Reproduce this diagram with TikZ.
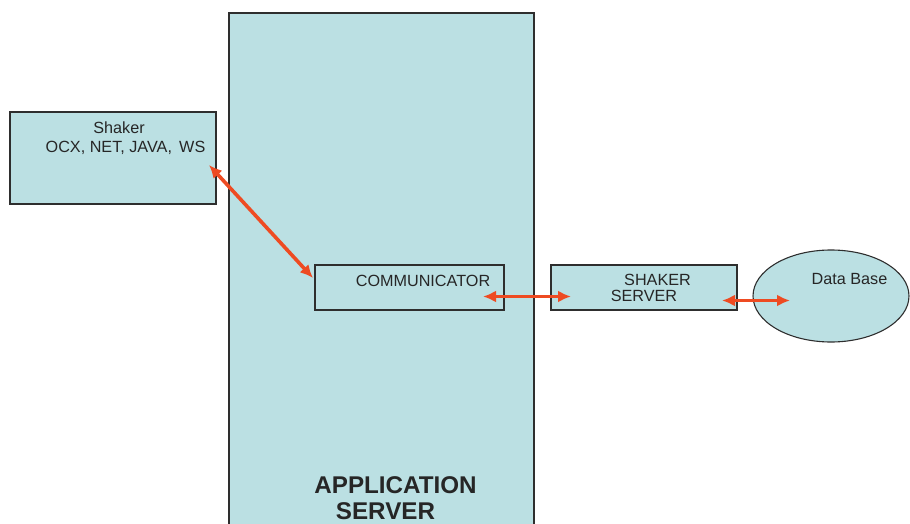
\documentclass[tikz,border=0pt]{standalone}
\usepackage{fontspec}
\setmainfont{Liberation Sans}
\definecolor{ShakerFill}{HTML}{BBE0E3}
\definecolor{ShakerLine}{HTML}{2E2E2E}
\definecolor{ShakerLink}{HTML}{EE4B22}
\usetikzlibrary{arrows.meta,positioning,calc,shapes.geometric}

\tikzset{
  unit/.style={draw=ShakerLine, fill=ShakerFill, line width=1.1pt, inner sep=0pt},
  caption/.style={inner sep=0pt, font=\fontsize{16.2}{19}\selectfont, text=black!85},
  link/.style={draw=ShakerLink, line width=3.6pt,
    {Latex[length=13pt,width=12pt]}-{Latex[length=13pt,width=12pt]}}
}

\begin{document}
\begin{tikzpicture}[x=1pt,y=-1pt]
  \useasboundingbox (0,0) rectangle (910,524);
  \clip (0,0) rectangle (910,524);

  % application server, runs past the bottom edge
  \node[unit, minimum width=305pt, minimum height=527pt] (appsrv) at (381.5,276.5) {};
  \node[caption, font=\fontsize{24.2}{26}\selectfont\bfseries] (apptop) at (395.5,485) {APPLICATION};
  \node[caption, font=\fontsize{24.2}{26}\selectfont\bfseries] (appbot) at (385.5,511) {SERVER};

  % client side
  \node[unit, minimum width=206pt, minimum height=92pt] (shaker) at (113,158) {};
  \node[caption] (shakername) at (119,128) {Shaker};
  \node[caption] (shakerkinds) at (125.5,148) {OCX, NET, JAVA,\, WS};

  \node[unit, minimum width=189pt, minimum height=45pt] (comm) at (409.5,287.5) {};
  \node[caption] (commname) at (423,281) {COMMUNICATOR};

  \node[unit, minimum width=186pt, minimum height=45pt] (shksrv) at (644,287.5) {};
  \node[caption] (shksrvtop) at (657.5,280) {SHAKER};
  \node[caption] (shksrvbot) at (644,296) {SERVER};

  \node[unit, ellipse, minimum width=156pt, minimum height=92pt] (db) at (831,296) {};
  \node[caption] (dbname) at (849.5,279) {Data Base};

  % arrow ends
  \coordinate (shakerend) at (209,165);
  \coordinate (commin) at (313,278);
  \coordinate (commout) at (483,296.5);
  \coordinate (shksrvin) at (571,296.5);
  \coordinate (shksrvout) at (722,300.5);
  \coordinate (dbin) at (790,300.5);

  \draw[link] (shakerend) -- (commin);
  \draw[link] (commout) -- (shksrvin);
  \draw[link] (shksrvout) -- (dbin);
\end{tikzpicture}
\end{document}
